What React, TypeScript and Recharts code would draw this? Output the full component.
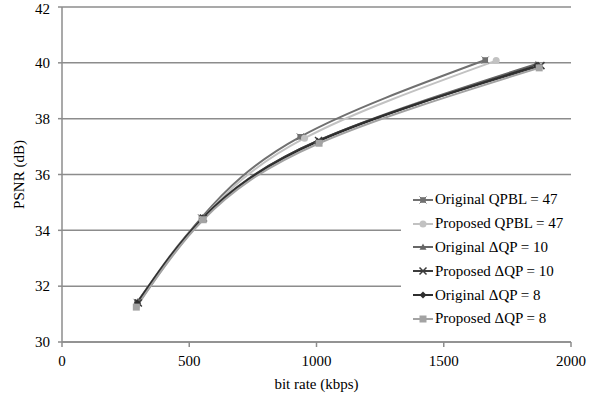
import { LineChart, Line, XAxis, YAxis, CartesianGrid } from 'recharts';

const rateTicks = [0, 500, 1000, 1500, 2000];
const psnrTicks = [30, 32, 34, 36, 38, 40, 42];

// bit rate (kbps) / PSNR (dB) per configuration
const origQpblRate = [295, 548, 936, 1663];
const origQpblPsnr = [31.42, 34.45, 37.35, 40.1];
const propQpblRate = [293, 550, 953, 1706];
const propQpblPsnr = [31.3, 34.4, 37.3, 40.08];
const origDqp10Rate = [298, 553, 1003, 1862];
const origDqp10Psnr = [31.45, 34.46, 37.2, 39.95];
const propDqp10Rate = [300, 556, 1008, 1882];
const propDqp10Psnr = [31.4, 34.44, 37.22, 39.9];
const origDqp8Rate = [296, 553, 1005, 1865];
const origDqp8Psnr = [31.4, 34.43, 37.18, 39.9];
const propDqp8Rate = [292, 555, 1010, 1875];
const propDqp8Psnr = [31.25, 34.38, 37.12, 39.82];

type Shape = 'star' | 'circle' | 'triangle' | 'cross' | 'diamond' | 'square';

const toPoints = (rates: number[], psnr: number[]) =>
  rates.map((r, i) => ({ rate: r, psnr: psnr[i] }));

const series: { name: string; color: string; shape: Shape; data: { rate: number; psnr: number }[] }[] = [
  { name: 'Original QPBL = 47', color: '#707070', shape: 'star', data: toPoints(origQpblRate, origQpblPsnr) },
  { name: 'Proposed QPBL = 47', color: '#c2c2c2', shape: 'circle', data: toPoints(propQpblRate, propQpblPsnr) },
  { name: 'Original \u0394QP = 10', color: '#666666', shape: 'triangle', data: toPoints(origDqp10Rate, origDqp10Psnr) },
  { name: 'Proposed \u0394QP = 10', color: '#3c3c3c', shape: 'cross', data: toPoints(propDqp10Rate, propDqp10Psnr) },
  { name: 'Original \u0394QP = 8', color: '#2e2e2e', shape: 'diamond', data: toPoints(origDqp8Rate, origDqp8Psnr) },
  { name: 'Proposed \u0394QP = 8', color: '#a3a3a3', shape: 'square', data: toPoints(propDqp8Rate, propDqp8Psnr) },
];

const FONT = '"Times New Roman", "Liberation Serif", "DejaVu Serif", Times, serif';
const AXIS = '#8c8c8c';

function Marker({ cx, cy, shape, color }: { cx: number; cy: number; shape: Shape; color: string }) {
  const s = 3.5;
  switch (shape) {
    case 'circle':
      return <circle cx={cx} cy={cy} r={s} fill={color} />;
    case 'triangle':
      return <polygon points={`${cx},${cy - s} ${cx + s},${cy + s * 0.8} ${cx - s},${cy + s * 0.8}`} fill={color} />;
    case 'diamond':
      return <polygon points={`${cx},${cy - s} ${cx + s},${cy} ${cx},${cy + s} ${cx - s},${cy}`} fill={color} />;
    case 'cross':
      return (
        <path d={`M${cx - s},${cy - s}L${cx + s},${cy + s}M${cx + s},${cy - s}L${cx - s},${cy + s}`} stroke={color} strokeWidth={1.5} />
      );
    case 'star':
      return (
        <g>
          <rect x={cx - s * 0.8} y={cy - s * 0.8} width={s * 1.6} height={s * 1.6} fill={color} />
          <path d={`M${cx - s},${cy - s}L${cx + s},${cy + s}M${cx + s},${cy - s}L${cx - s},${cy + s}`} stroke={color} strokeWidth={1} />
        </g>
      );
    default:
      return <rect x={cx - s} y={cy - s} width={s * 2} height={s * 2} fill={color} />;
  }
}

function ChartLegend() {
  return (
    <div
      style={{
        position: 'absolute',
        left: 401,
        top: 186,
        width: 170,
        background: '#fff',
        padding: '2px 0 6px 12px',
        boxSizing: 'border-box',
        fontFamily: FONT,
        fontSize: 15,
        color: '#000',
      }}
    >
      {series.map((s) => (
        <div key={s.name} style={{ display: 'flex', alignItems: 'center', height: 23.8 }}>
          <svg width={20} height={12} style={{ marginRight: 2 }}>
            <line x1={0} y1={6} x2={20} y2={6} stroke={s.color} strokeWidth={2} />
            <Marker cx={10} cy={6} shape={s.shape} color={s.color} />
          </svg>
          <span style={{ whiteSpace: 'nowrap' }}>{s.name}</span>
        </div>
      ))}
    </div>
  );
}

export default function App() {
  return (
    <div style={{ position: 'absolute', left: 0, top: 0, width: 589, height: 400, background: '#fff', fontFamily: FONT }}>
      <LineChart width={589} height={400} margin={{ top: 7, right: 18, left: 0, bottom: 8 }} style={{ fontFamily: FONT }}>
        <CartesianGrid vertical={false} stroke={AXIS} strokeWidth={1.5} />
        <XAxis
          type="number"
          dataKey="rate"
          domain={[0, 2000]}
          ticks={rateTicks}
          height={50}
          stroke={AXIS}
          strokeWidth={1.5}
          tickSize={5}
          tickMargin={8}
          tick={{ fill: '#000', fontSize: 15, fontFamily: FONT }}
          label={{ value: 'bit rate (kbps)', position: 'insideBottom', offset: 3, fill: '#000', fontSize: 15, fontFamily: FONT }}
        />
        <YAxis
          type="number"
          domain={[30, 42]}
          ticks={psnrTicks}
          width={62}
          stroke={AXIS}
          strokeWidth={1.5}
          tickSize={4}
          tickMargin={8}
          tick={{ fill: '#000', fontSize: 15, fontFamily: FONT }}
          label={{
            value: 'PSNR (dB)',
            angle: -90,
            position: 'insideLeft',
            offset: 19,
            fill: '#000',
            fontSize: 15,
            fontFamily: FONT,
            style: { textAnchor: 'middle' },
          }}
        />
        {series.map((s) => (
          <Line
            key={s.name}
            name={s.name}
            data={s.data}
            dataKey="psnr"
            type="natural"
            stroke={s.color}
            strokeWidth={2}
            isAnimationActive={false}
            dot={(p: any) => <Marker key={`${s.name}-${p.index}`} cx={p.cx} cy={p.cy} shape={s.shape} color={s.color} />}
            activeDot={false}
          />
        ))}
      </LineChart>
      <ChartLegend />
    </div>
  );
}
